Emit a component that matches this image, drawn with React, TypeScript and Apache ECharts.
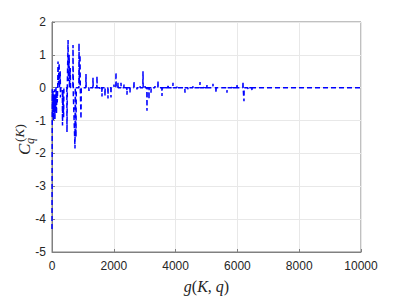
import React, { useEffect, useRef } from "react";
import * as echarts from "echarts";

const gValues: number[] = [
  0, 10, 20, 30, 45, 55, 70, 80, 95, 105, 120, 130, 145, 155, 170, 185,
  195, 205, 230, 240, 265, 275, 285,
  335, 340, 350, 375, 385, 480, 485, 495,
  515, 520, 530, 555, 565, 590, 600,
  675, 680, 690, 744, 754, 776, 786,
  870, 874, 884, 906, 916, 938, 948,
  1095, 1100, 1105, 1192, 1197, 1202, 1322, 1327, 1332, 1451, 1456, 1461,
  1548, 1553, 1558, 1613, 1618, 1623, 1710, 1715, 1720, 1807, 1812, 1817,
  1904, 1909, 1914, 2001, 2006, 2011, 2066, 2071, 2076, 2131, 2136, 2141,
  2228, 2233, 2238, 2325, 2330, 2335, 2422, 2427, 2432, 2519, 2524, 2529,
  2648, 2653, 2658, 2745, 2750, 2755, 2843, 2848, 2853, 2940, 2945, 2950,
  3005, 3010, 3015, 3069, 3074, 3079, 3134, 3139, 3144, 3199, 3204, 3209,
  3328, 3333, 3338, 3425, 3430, 3435, 3555, 3560, 3565, 3652, 3657, 3662,
  3749, 3754, 3759, 3911, 3916, 3921, 4040, 4045, 4050, 4299, 4304, 4309,
  4396, 4401, 4406, 4558, 4563, 4568, 4785, 4790, 4795, 4914, 4919, 4924,
  5011, 5016, 5021, 5205, 5210, 5215, 5302, 5307, 5312, 5658, 5663, 5668,
  5820, 5825, 5830, 5982, 5987, 5992, 6176, 6181, 6186, 6208, 6213, 6218,
  6338, 6343, 6348, 6467, 6472, 6477, 10000,
];

const cValues: number[] = [
  -4.3, -0.05, -0.9, -0.1, -1.0, -0.2, -0.75, -0.05, -0.95, -0.3, -0.6, 0.02, -0.8, -0.1, -0.45, 0.05,
  0.8, 0.1, 0.75, 0, 0.5, -0.3, 0,
  0, -1.15, -0.1, -0.9, 0, 0, -1.35, 0,
  0, 1.45, 0.2, 1.0, 0, 0.6, 0,
  0, 1.3, -0.2, -1.85, 0, -1.5, 0,
  0, 1.35, 0.1, 1.0, 0, -0.95, 0,
  0, 0.42, 0, 0, -0.1, 0, 0, 0.3, 0, 0, 0.35, 0,
  0, -0.05, 0, 0, -0.27, 0, 0, -0.25, 0, 0, -0.33, 0,
  0, -0.3, 0, 0, 0.1, 0, 0, 0.47, 0, 0, 0.15, 0,
  0, 0.15, 0, 0, 0.1, 0, 0, -0.21, 0, 0, -0.15, 0,
  0, 0.2, 0, 0, -0.05, 0, 0, 0.05, 0, 0, 0.5, 0,
  0, 0.05, 0, 0, -0.7, 0, 0, -0.35, 0, 0, -0.15, 0,
  0, 0.05, 0, 0, 0.22, 0, 0, -0.25, 0, 0, -0.05, 0,
  0, 0.1, 0, 0, 0.15, 0, 0, 0.05, 0, 0, -0.15, 0,
  0, -0.05, 0, 0, 0.05, 0, 0, 0.17, 0, 0, 0.05, 0,
  0, 0.1, 0, 0, 0.12, 0, 0, -0.15, 0, 0, -0.15, 0,
  0, 0.05, 0, 0, 0.1, 0, 0, 0.19, 0, 0, -0.41, 0,
  0, -0.05, 0, 0, -0.1, 0, 0,
];

const xTicks = { min: 0, max: 10000, interval: 2000 };
const yTicks = { min: -5, max: 2, interval: 1 };

const textColor = "#262626";
const axisGray = "#808080";
const gridGray = "#e8e8e8";
const sansFont = "'Liberation Sans', Arial, Helvetica, sans-serif";
const serifFont = "'Liberation Serif', 'DejaVu Serif', serif";

export default function App() {
  const ref = useRef<HTMLDivElement>(null);

  useEffect(() => {
    if (!ref.current) return;
    const chart = echarts.init(ref.current, undefined, { renderer: "svg" });
    const data = gValues.map((g, i) => [g, cValues[i]]);
    const axisCommon = {
      axisLine: { show: true, onZero: false, lineStyle: { color: axisGray, width: 1 } },
      axisTick: { show: true, inside: true, length: 3, lineStyle: { color: axisGray } },
      splitLine: { show: true, lineStyle: { color: gridGray, width: 1 } },
      axisLabel: { color: textColor, fontFamily: sansFont, fontSize: 12, formatter: (v: number) => String(v) },
    };
    chart.setOption({
      animation: false,
      backgroundColor: "#ffffff",
      grid: {
        left: 52,
        right: 38,
        top: 22,
        bottom: 43,
        show: true,
        borderColor: axisGray,
        borderWidth: 1,
        backgroundColor: "transparent",
      },
      xAxis: {
        type: "value",
        ...xTicks,
        ...axisCommon,
        axisLabel: { ...axisCommon.axisLabel, margin: 8 },
        name: "{i|g}{n|(}{i|K}{n|, }{i|q}{n|)}",
        nameLocation: "middle",
        nameGap: 26,
        nameTextStyle: {
          rich: {
            i: { fontFamily: serifFont, fontStyle: "italic", fontSize: 16, color: textColor },
            n: { fontFamily: serifFont, fontSize: 16, color: textColor },
          },
        },
      },
      yAxis: {
        type: "value",
        ...yTicks,
        ...axisCommon,
        axisLabel: { ...axisCommon.axisLabel, margin: 6 },
      },
      graphic: [
        {
          type: "group",
          x: 24,
          y: 155,
          rotation: Math.PI / 2,
          children: [
            {
              type: "text",
              x: 0,
              y: 0,
              style: {
                text: "C",
                font: `italic 17px ${serifFont}`,
                fill: textColor,
                textVerticalAlign: "middle",
              },
            },
            {
              type: "text",
              x: 11,
              y: 6,
              style: {
                text: "q",
                font: `italic 12px ${serifFont}`,
                fill: textColor,
                textVerticalAlign: "middle",
              },
            },
            {
              type: "text",
              x: 13,
              y: -5,
              style: {
                text: "(",
                font: `13px ${serifFont}`,
                fill: textColor,
                textVerticalAlign: "middle",
              },
            },
            {
              type: "text",
              x: 17.5,
              y: -5,
              style: {
                text: "K",
                font: `italic 13px ${serifFont}`,
                fill: textColor,
                textVerticalAlign: "middle",
              },
            },
            {
              type: "text",
              x: 26.5,
              y: -5,
              style: {
                text: ")",
                font: `13px ${serifFont}`,
                fill: textColor,
                textVerticalAlign: "middle",
              },
            },
          ],
        },
      ],
      series: [
        {
          type: "line",
          data,
          showSymbol: false,
          symbol: "none",
          lineStyle: { color: "#0000ff", width: 1.5, type: [5, 3] },
          z: 3,
        },
      ],
    });
    return () => chart.dispose();
  }, []);

  return (
    <div
      ref={ref}
      style={{ position: "fixed", left: 0, top: 0, width: 399, height: 299 }}
    />
  );
}
